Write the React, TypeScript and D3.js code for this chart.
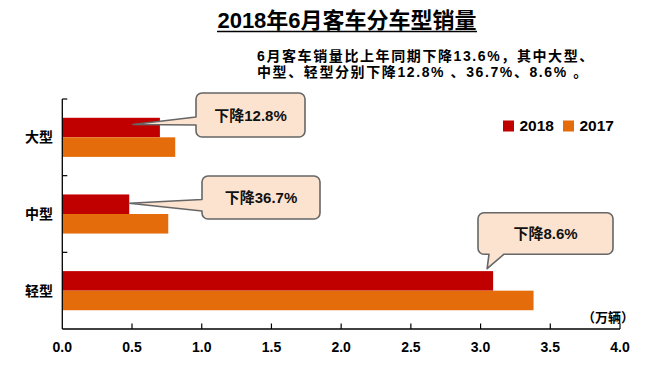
import React from "react";
import * as d3 from "d3";

const categories = ["大型", "中型", "轻型"];
const seriesNames = ["2018", "2017"];
const values2018 = [0.70, 0.48, 3.09];
const values2017 = [0.81, 0.76, 3.38];
const xTicks = [0, 0.5, 1, 1.5, 2, 2.5, 3, 3.5, 4];
const calloutTexts = ["下降12.8%", "下降36.7%", "下降8.6%"];
const title = "2018年6月客车分车型销量";
const subtitleLines = ["6月客车销量比上年同期下降13.6%，其中大型、", "中型、轻型分别下降12.8% 、36.7%、8.6% 。"];
const unitLabel = "（万辆）";

const W = 653;
const H = 375;
const COLORS = ["#C00000", "#E46C0A"];
const FONT = "'Liberation Sans', Arial, 'Noto Sans CJK SC', sans-serif";

export default function App() {
  const x = d3.scaleLinear().domain([0, 4]).range([62.3, 620]);
  const y = d3
    .scaleBand<string>()
    .domain(categories)
    .range([99, 329])
    .paddingInner(0.49)
    .paddingOuter(0.245);
  const sub = d3.scaleBand<string>().domain(seriesNames).range([0, y.bandwidth()]);
  const step = y.step();
  const series = [values2018, values2017];

  const boxes = [
    { bx: 196, by: 93, bw: 109, bh: 44, side: "left", b1: 117, b2: 125, tipDx: -27 },
    { bx: 202, by: 176, bw: 118, bh: 43, side: "left", b1: 199.5, b2: 211, tipDx: 0 },
    { bx: 478, by: 212.7, bw: 135, bh: 41.5, side: "bottom", b1: 489, b2: 504, tipDx: -6 },
  ];

  const calloutPath = (i: number) => {
    const b = boxes[i];
    const r = 6;
    const cat = categories[i];
    const tipX = x(values2018[i]) + b.tipDx;
    const tipY =
      b.side === "left"
        ? (y(cat) as number) + (sub("2018") as number) + sub.bandwidth() / 2 + (i === 1 ? -1 : -3)
        : (y(cat) as number) + (sub("2018") as number) - 2.5;
    const { bx, by, bw, bh } = b;
    const p = d3.path();
    p.moveTo(bx + r, by);
    p.lineTo(bx + bw - r, by);
    p.arcTo(bx + bw, by, bx + bw, by + r, r);
    p.lineTo(bx + bw, by + bh - r);
    p.arcTo(bx + bw, by + bh, bx + bw - r, by + bh, r);
    if (b.side === "bottom") {
      p.lineTo(b.b2, by + bh);
      p.lineTo(tipX, tipY);
      p.lineTo(b.b1, by + bh);
    }
    p.lineTo(bx + r, by + bh);
    p.arcTo(bx, by + bh, bx, by + bh - r, r);
    if (b.side === "left") {
      p.lineTo(bx, b.b2);
      p.lineTo(tipX, tipY);
      p.lineTo(bx, b.b1);
    }
    p.lineTo(bx, by + r);
    p.arcTo(bx, by, bx + r, by, r);
    p.closePath();
    return p.toString();
  };

  const boundaries = categories.map((c) => (y(c) as number) - (step * 0.49) / 2);

  return (
    <svg width={W} height={H} style={{ position: "absolute", left: 0, top: 0, background: "#fff" }} fontFamily={FONT}>
      <rect x={0} y={0} width={W} height={H} fill="#fff" />
      <text x={347} y={28} textAnchor="middle" fontSize={22} fontWeight="bold" fill="#000">
        {title}
      </text>
      <line x1={217} x2={477} y1={31.5} y2={31.5} stroke="#000" strokeWidth={1.6} />
      {subtitleLines.map((s, i) => (
        <text key={i} x={257} y={60.5 + i * 16} fontSize={14} fontWeight="bold" fill="#000" letterSpacing={1.6}>
          {s}
        </text>
      ))}

      {series.map((vals, si) =>
        categories.map((c, ci) => (
          <rect
            key={`${si}-${ci}`}
            x={x(0)}
            y={(y(c) as number) + (sub(seriesNames[si]) as number)}
            width={x(vals[ci]) - x(0)}
            height={sub.bandwidth()}
            fill={COLORS[si]}
          />
        ))
      )}

      <line x1={x(0)} x2={x(0)} y1={99} y2={329} stroke="#000" strokeWidth={1.3} />
      <line x1={x(0)} x2={x(4)} y1={329} y2={329} stroke="#000" strokeWidth={1.3} />
      {boundaries.map((b, i) => (
        <line key={i} x1={x(0)} x2={x(0) + 5} y1={b} y2={b} stroke="#000" strokeWidth={1.2} />
      ))}
      {xTicks.slice(1).map((t) => (
        <line key={t} x1={x(t)} x2={x(t)} y1={329} y2={323.5} stroke="#000" strokeWidth={1.2} />
      ))}
      {xTicks.map((t) => (
        <text key={t} x={x(t)} y={352} textAnchor="middle" fontSize={14} fontWeight="bold" fill="#000">
          {d3.format(".1f")(t)}
        </text>
      ))}
      {categories.map((c) => (
        <text
          key={c}
          x={53}
          y={(y(c) as number) + y.bandwidth() / 2 + 5}
          textAnchor="end"
          fontSize={14}
          fontWeight="bold"
          fill="#000"
        >
          {c}
        </text>
      ))}
      <text x={608} y={322} textAnchor="middle" fontSize={13} fontWeight="bold" fill="#000">
        {unitLabel}
      </text>

      {seriesNames.map((s, i) => (
        <g key={s} transform={`translate(${503 + i * 60},120.5)`}>
          <rect x={0} y={0} width={11} height={11} fill={COLORS[i]} />
          <text x={16.5} y={10.5} fontSize={15.5} fontWeight="bold" fill="#000">
            {s}
          </text>
        </g>
      ))}

      {boxes.map((b, i) => (
        <g key={i}>
          <path d={calloutPath(i)} fill="#FBE3CF" stroke="#666" strokeWidth={1.6} strokeLinejoin="round" />
          <text
            x={b.bx + b.bw / 2}
            y={b.by + b.bh / 2 + 5.5}
            textAnchor="middle"
            fontSize={15}
            fontWeight="bold"
            fill="#111"
          >
            {calloutTexts[i]}
          </text>
        </g>
      ))}
    </svg>
  );
}
